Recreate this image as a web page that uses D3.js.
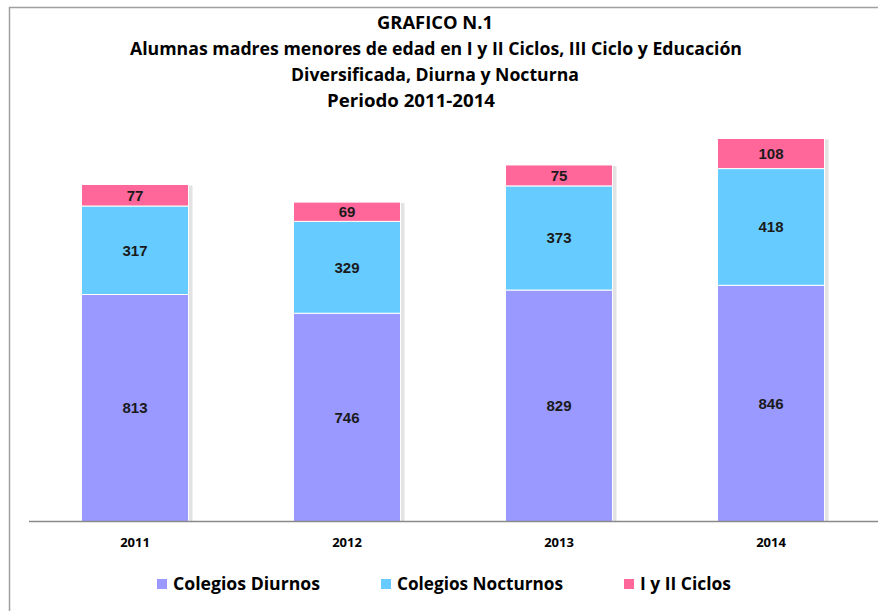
<!DOCTYPE html>
<html>
<head>
<meta charset="utf-8">
<script src="https://cdn.jsdelivr.net/npm/d3@7"></script>
<style>
  html, body { margin: 0; padding: 0; background: #fff; }
  svg { display: block; }
</style>
</head>
<body>
<svg id="chart" width="878" height="611"></svg>
<script>
const years = ["2011", "2012", "2013", "2014"];
const colegiosDiurnos = [813, 746, 829, 846];
const colegiosNocturnos = [317, 329, 373, 418];
const iyIICiclos = [77, 69, 75, 108];
const seriesNames = ["Colegios Diurnos", "Colegios Nocturnos", "I y II Ciclos"];
const seriesColors = ["#9999FF", "#66CCFF", "#FF6699"];
const titleLines = [
  "GRAFICO N.1",
  "Alumnas madres menores de edad en I y II Ciclos, III Ciclo y Educación",
  "Diversificada, Diurna y Nocturna",
  "Periodo 2011-2014"
];

const rows = years.map((y, i) => ({
  year: y,
  "Colegios Diurnos": colegiosDiurnos[i],
  "Colegios Nocturnos": colegiosNocturnos[i],
  "I y II Ciclos": iyIICiclos[i]
}));

const svg = d3.select("#chart");
const fontTitle = "'Liberation Sans Narrow', 'Open Sans', sans-serif";

// frame
svg.append("path")
  .attr("d", "M9.5,611 L9.5,7.5 L878,7.5")
  .attr("fill", "none").attr("stroke", "#a0a0a0").attr("stroke-width", 1.5);

// title
const titlePos = [
  {cx: 435, y: 29, w: 116},
  {cx: 436, y: 55, w: 612},
  {cx: 435, y: 81, w: 288},
  {cx: 411, y: 107, w: 168}
];
svg.append("g").selectAll("text").data(titleLines).join("text")
  .attr("x", (d, i) => titlePos[i].cx - titlePos[i].w / 2)
  .attr("y", (d, i) => titlePos[i].y)
  .attr("textLength", (d, i) => titlePos[i].w)
  .attr("lengthAdjust", "spacingAndGlyphs")
  .attr("font-family", fontTitle)
  .attr("font-weight", "bold")
  .attr("font-size", 17)
  .attr("fill", "#000")
  .text(d => d);

const x = d3.scaleBand().domain(years).range([29, 877]).paddingInner(0.495).paddingOuter(0.2475);
const y = d3.scaleLinear().domain([0, 1600]).range([521.5, 521.5 - 1600 * 0.2792]);

const stack = d3.stack().keys(seriesNames);
const stacked = stack(rows);

// shadows
svg.append("g").selectAll("rect").data(rows).join("rect")
  .attr("x", d => x(d.year) + 2)
  .attr("y", d => y(d["Colegios Diurnos"] + d["Colegios Nocturnos"] + d["I y II Ciclos"]) + 1)
  .attr("width", x.bandwidth() + 2)
  .attr("height", d => y(0) - y(d["Colegios Diurnos"] + d["Colegios Nocturnos"] + d["I y II Ciclos"]) - 1)
  .attr("fill", "#e3e3e3");

const layers = svg.append("g").selectAll("g").data(stacked).join("g")
  .attr("fill", (d, i) => seriesColors[i]);

layers.selectAll("rect").data(d => d).join("rect")
  .attr("x", d => x(d.data.year))
  .attr("y", d => y(d[1]))
  .attr("width", x.bandwidth())
  .attr("height", d => y(d[0]) - y(d[1]))
  .attr("stroke", "#fff")
  .attr("stroke-width", 1);

// value labels
layers.selectAll("text").data(d => d).join("text")
  .attr("x", d => x(d.data.year) + x.bandwidth() / 2)
  .attr("y", d => (y(d[0]) + y(d[1])) / 2)
  .attr("dy", "0.36em")
  .attr("text-anchor", "middle")
  .attr("font-family", "'Liberation Sans', Arial, sans-serif")
  .attr("font-weight", "bold")
  .attr("font-size", 15)
  .attr("fill", "#1a1a1a")
  .text(d => d[1] - d[0]);

// x axis
const xAxis = svg.append("g").attr("transform", `translate(0,${y(0)})`)
  .call(d3.axisBottom(x).tickSize(0).tickPadding(16));
xAxis.select(".domain").attr("stroke", "#8a8a8a").attr("stroke-width", 1.5)
  .attr("d", "M29,0H878");
xAxis.selectAll("text")
  .attr("font-family", fontTitle)
  .attr("font-weight", "bold")
  .attr("font-size", 13)
  .attr("fill", "#000");

// legend
const legendPos = [
  {sx: 157, tx: 173, w: 147},
  {sx: 381, tx: 397, w: 166},
  {sx: 624, tx: 640, w: 91}
];
const legend = svg.append("g").selectAll("g").data(seriesNames).join("g");
legend.append("rect")
  .attr("x", (d, i) => legendPos[i].sx)
  .attr("y", 579)
  .attr("width", 10).attr("height", 10)
  .attr("fill", (d, i) => seriesColors[i]);
legend.append("text")
  .attr("x", (d, i) => legendPos[i].tx)
  .attr("y", 590)
  .attr("textLength", (d, i) => legendPos[i].w)
  .attr("lengthAdjust", "spacingAndGlyphs")
  .attr("font-family", fontTitle)
  .attr("font-weight", "bold")
  .attr("font-size", 18)
  .attr("fill", "#000")
  .text(d => d);
</script>
</body>
</html>
